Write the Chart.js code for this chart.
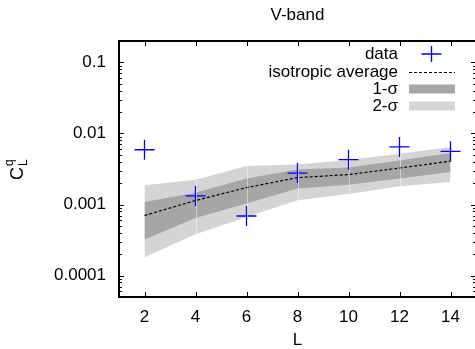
<!DOCTYPE html>
<html>
<head>
<meta charset="utf-8">
<script src="https://cdn.jsdelivr.net/npm/chart.js@4.4.0/dist/chart.umd.min.js"></script>
<style>
  html, body { margin: 0; padding: 0; background: #fff; overflow: hidden; }
  #wrap { width: 480px; height: 349px; }
</style>
</head>
<body>
<div id="wrap"><canvas id="chart-area" width="480" height="349"></canvas></div>
<script>
// multipole degree on the x axis
var degrees = [2, 4, 6, 8, 10, 12, 14];
var xTicks = [2, 4, 6, 8, 10, 12, 14];
var yTicks = [0.0001, 0.001, 0.01, 0.1];

// measured C_L^q
var dataCl = [0.0059, 0.00132, 0.00069, 0.00277, 0.00428, 0.00646, 0.0056];
// isotropic average and the 1/2 sigma bands
var isoAvg = [0.0007, 0.00114, 0.00173, 0.00239, 0.00264, 0.00326, 0.00408];
var sig1Upper = [0.00109, 0.00146, 0.00232, 0.0031, 0.00333, 0.00418, 0.0053];
var sig1Lower = [0.000323, 0.000649, 0.00103, 0.00168, 0.0019, 0.00232, 0.00286];
var sig2Upper = [0.00187, 0.00224, 0.00348, 0.00367, 0.00425, 0.00519, 0.00643];
var sig2Lower = [0.000181, 0.000383, 0.00067, 0.00115, 0.00141, 0.00181, 0.00207];

var FONT = '"Liberation Sans", Arial, sans-serif';
var FS = 17;
var DARK = '#a6a6a6';
var LIGHT = '#d4d4d4';

function pts(vals) {
  return degrees.map(function(d, i) { return { x: d, y: vals[i] }; });
}

// faint seams where the band polygons meet (gnuplot draws one per interval)
var seams = {
  id: 'seams',
  afterDatasetsDraw: function(chart) {
    var ctx = chart.ctx;
    var xs = chart.scales.x, ys = chart.scales.y;
    ctx.save();
    ctx.strokeStyle = 'rgba(255,255,255,0.45)';
    ctx.lineWidth = 1;
    ctx.beginPath();
    for (var i = 1; i < degrees.length - 1; i++) {
      var px = Math.round(xs.getPixelForValue(degrees[i])) + 0.5;
      ctx.moveTo(px, ys.getPixelForValue(sig2Upper[i]));
      ctx.lineTo(px, ys.getPixelForValue(sig2Lower[i]));
    }
    ctx.stroke();
    ctx.restore();
  }
};

// frame, inward ticks, minor log ticks, title, y label and gnuplot-style key
var decorations = {
  id: 'decorations',
  afterDraw: function(chart) {
    var ctx = chart.ctx;
    var a = chart.chartArea;
    var xs = chart.scales.x, ys = chart.scales.y;
    ctx.save();
    ctx.strokeStyle = '#000';
    ctx.lineWidth = 1;
    ctx.beginPath();
    xTicks.forEach(function(v) {
      var px = Math.round(xs.getPixelForValue(v)) + 0.5;
      ctx.moveTo(px, a.bottom); ctx.lineTo(px, a.bottom - 5);
      ctx.moveTo(px, a.top); ctx.lineTo(px, a.top + 5);
    });
    yTicks.forEach(function(v) {
      var py = Math.round(ys.getPixelForValue(v)) + 0.5;
      ctx.moveTo(a.left, py); ctx.lineTo(a.left + 5, py);
      ctx.moveTo(a.right, py); ctx.lineTo(a.right - 5, py);
    });
    for (var k = -5; k <= -1; k++) {
      for (var m = 2; m <= 9; m++) {
        var v = m * Math.pow(10, k);
        if (v < ys.min || v > ys.max) continue;
        var py = Math.round(ys.getPixelForValue(v)) + 0.5;
        ctx.moveTo(a.left, py); ctx.lineTo(a.left + 3, py);
        ctx.moveTo(a.right, py); ctx.lineTo(a.right - 3, py);
      }
    }
    ctx.stroke();
    ctx.lineWidth = 2;
    ctx.strokeRect(a.left, a.top, a.right - a.left, a.bottom - a.top);

    // title
    ctx.fillStyle = '#000';
    ctx.font = FS + 'px ' + FONT;
    ctx.textAlign = 'center';
    ctx.textBaseline = 'middle';
    ctx.fillText('V-band', (a.left + a.right) / 2, 15);

    // y label C_L^q
    ctx.save();
    ctx.translate(23, 180);
    ctx.rotate(-Math.PI / 2);
    ctx.textAlign = 'left';
    ctx.textBaseline = 'alphabetic';
    ctx.font = '18px ' + FONT;
    ctx.fillText('C', 0, 0);
    var wc = ctx.measureText('C').width;
    ctx.font = '12px ' + FONT;
    ctx.fillText('L', wc + 1, 4);
    ctx.fillText('q', wc + 1, -10);
    ctx.restore();

    // key
    var textX = 398, sx0 = 409, sx1 = 455;
    var rows = [54, 72, 89, 106];
    ctx.font = FS + 'px ' + FONT;
    ctx.textAlign = 'right';
    ctx.textBaseline = 'middle';
    var labels = ['data', 'isotropic average', '1-\u03c3', '2-\u03c3'];
    labels.forEach(function(t, i) { ctx.fillText(t, textX, rows[i]); });
    var cx = (sx0 + sx1) / 2 - 0.5;
    ctx.strokeStyle = '#0000ff';
    ctx.lineWidth = 1.3;
    ctx.beginPath();
    ctx.moveTo(cx - 10, rows[0]); ctx.lineTo(cx + 10, rows[0]);
    ctx.moveTo(cx, rows[0] - 8); ctx.lineTo(cx, rows[0] + 8);
    ctx.stroke();
    ctx.strokeStyle = '#000';
    ctx.lineWidth = 1.2;
    ctx.setLineDash([3, 2]);
    ctx.beginPath();
    ctx.moveTo(sx0, rows[1] + 0.5); ctx.lineTo(sx1, rows[1] + 0.5);
    ctx.stroke();
    ctx.setLineDash([]);
    ctx.fillStyle = DARK;
    ctx.fillRect(sx0, rows[2] - 4.5, sx1 - sx0, 9);
    ctx.fillStyle = LIGHT;
    ctx.fillRect(sx0, rows[3] - 4.5, sx1 - sx0, 9);
    ctx.restore();
  }
};

var band = function(vals, fill, color, order) {
  return {
    data: pts(vals),
    fill: fill,
    backgroundColor: color,
    borderColor: 'transparent',
    borderWidth: 0,
    pointRadius: 0,
    tension: 0,
    order: order
  };
};

var config = {
  type: 'line',
  data: {
    datasets: [
      band(sig2Upper, '+1', LIGHT, 5),
      band(sig2Lower, false, LIGHT, 5),
      band(sig1Upper, '+1', DARK, 4),
      band(sig1Lower, false, DARK, 4),
      {
        label: 'isotropic average',
        data: pts(isoAvg),
        borderColor: '#000',
        borderWidth: 1.2,
        borderDash: [3, 2],
        pointRadius: 0,
        fill: false,
        order: 2
      },
      {
        label: 'data',
        data: pts(dataCl),
        showLine: false,
        pointStyle: 'cross',
        pointRadius: 10,
        pointBorderWidth: 1.3,
        pointBorderColor: '#0000ff',
        pointBackgroundColor: '#0000ff',
        order: 1
      }
    ]
  },
  options: {
    responsive: false,
    animation: false,
    events: [],
    layout: { autoPadding: false, padding: { top: 41, right: 4, left: 0, bottom: 0 } },
    plugins: {
      legend: { display: false },
      title: { display: false },
      tooltip: { enabled: false }
    },
    scales: {
      x: {
        type: 'linear',
        min: 1,
        max: 15,
        grid: { display: false, drawTicks: false },
        border: { display: false },
        afterBuildTicks: function(s) { s.ticks = xTicks.map(function(v) { return { value: v }; }); },
        afterFit: function(s) { s.height = 52; s.paddingLeft = 0; s.paddingRight = 0; },
        ticks: { color: '#000', font: { family: FONT, size: FS }, padding: 10, maxRotation: 0 },
        title: { display: true, text: 'L', color: '#000', font: { family: FONT, size: FS, lineHeight: 1 }, padding: { top: 0, bottom: 0 } }
      },
      y: {
        type: 'logarithmic',
        min: 0.00005,
        max: 0.2,
        grid: { display: false, drawTicks: false },
        border: { display: false },
        afterBuildTicks: function(s) { s.ticks = yTicks.map(function(v) { return { value: v }; }); },
        afterFit: function(s) { s.width = 119; s.paddingTop = 0; s.paddingBottom = 0; },
        ticks: {
          color: '#000',
          font: { family: FONT, size: FS },
          padding: 13,
          callback: function(v) { return String(v); }
        }
      }
    }
  },
  plugins: [seams, decorations]
};

var ctx = document.getElementById('chart-area').getContext('2d');
window.myChart = new Chart(ctx, config);
</script>
</body>
</html>
